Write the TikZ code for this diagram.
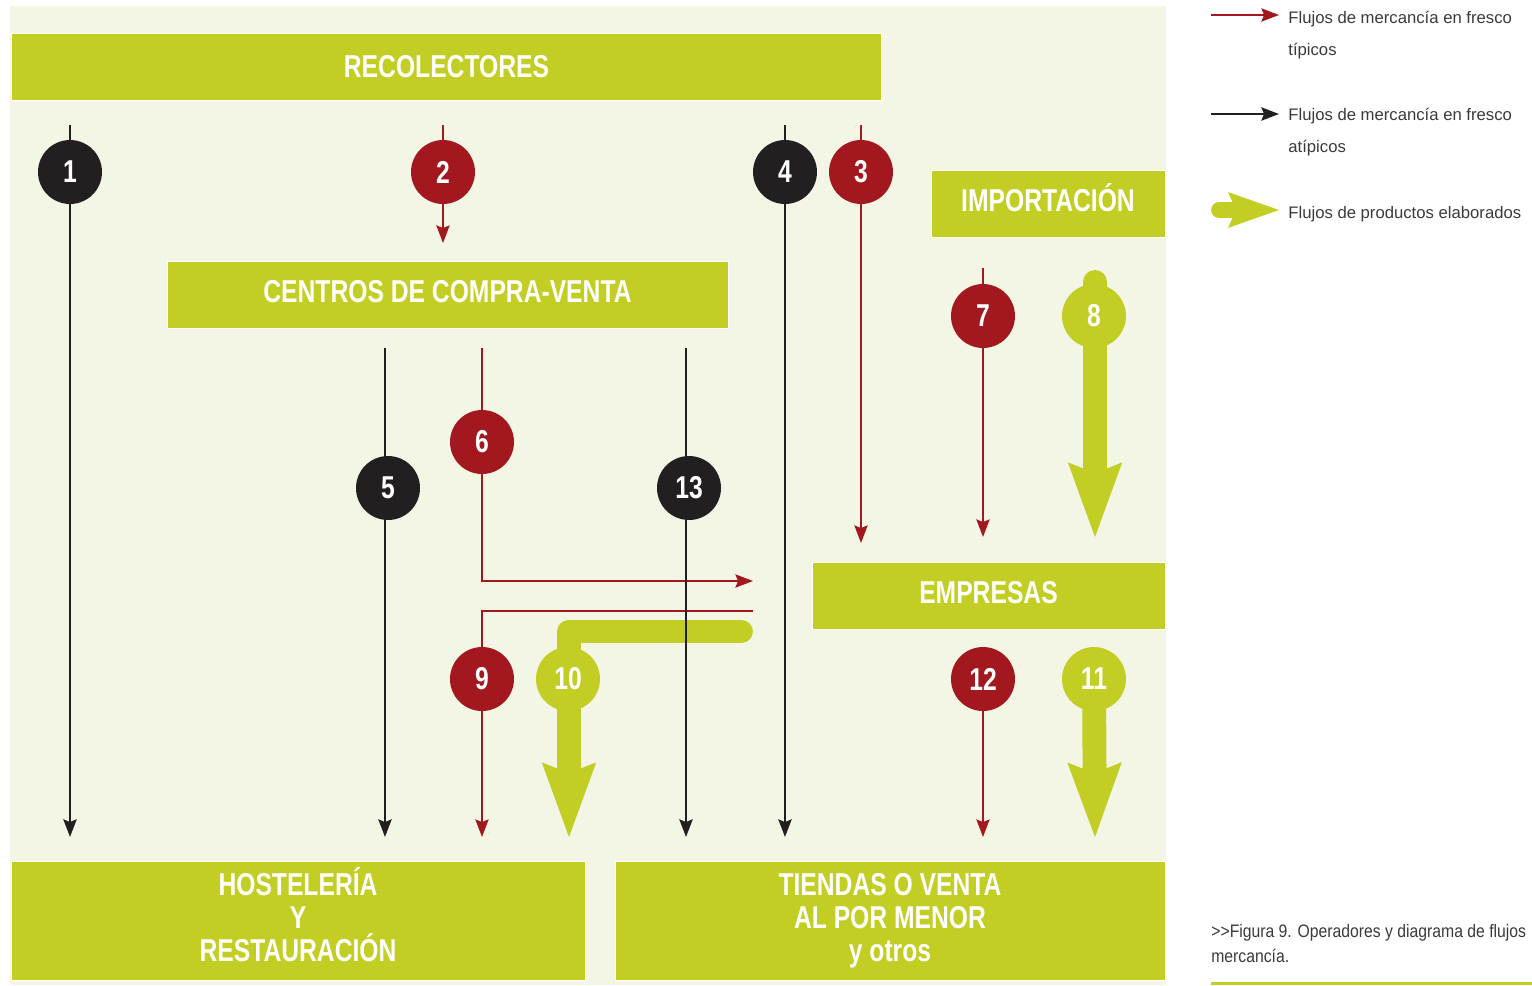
\documentclass[tikz,border=0pt]{standalone}
\usepackage{fontspec}
\setmainfont{Liberation Sans}
\newfontfamily\condfont[FakeStretch=0.78]{Liberation Sans}
\newfontfamily\legfont{Liberation Sans}
\newfontfamily\capfont[FakeStretch=0.87]{Liberation Sans}
\usetikzlibrary{arrows.meta, backgrounds}
\definecolor{cgreen}{HTML}{C2CE23}
\definecolor{cpanel}{HTML}{F3F6E5}
\definecolor{cred}{HTML}{A3171E}
\definecolor{cblack}{HTML}{231F20}
\definecolor{ctext}{HTML}{3A3A3A}
\tikzset{
  every picture/.style={x=0.02cm, y=-0.02cm},
  stage/.style={fill=cgreen, draw=white, line width=0.5pt, text=white, align=center, inner sep=0pt,
    text depth=3.4pt, minimum height=1.34cm, font=\condfont\bfseries\fontsize{18}{18.7}\selectfont},
  badge/.style={circle, fill=#1, minimum size=1.28cm, inner sep=0pt, text=white,
    font=\condfont\bfseries\fontsize{18}{18}\selectfont},
  typical/.style={draw=cred, line width=1.1pt, -{Stealth[length=10pt, width=7.5pt, inset=1.5pt]}},
  atypical/.style={draw=cblack, line width=1.4pt, -{Stealth[length=10pt, width=7.5pt, inset=1.5pt]}},
  elaborate/.style={draw=cgreen, line width=13.6pt, line cap=round, line join=round,
    -{Stealth[length=42.5pt, width=31pt, inset=6.2pt, line width=0pt]}},
  legend/.style={font=\legfont\fontsize{9.5}{18.2}\selectfont, text=ctext, align=left, anchor=base west, inner sep=0pt},
}
\begin{document}
\begin{tikzpicture}
  \useasboundingbox (0,0) rectangle (1532,985);
  % operators
  \node[stage, text depth=0pt, minimum width=17.42cm] (rec) at (446.5,66.5) {RECOLECTORES};
  \node[stage, minimum width=11.22cm] (ccv) at (447.5,294.5) {CENTROS DE COMPRA-VENTA};
  \node[stage, minimum width=4.68cm] (imp) at (1048,203.5) {IMPORTACI\smash{Ó}N};
  \node[stage, minimum width=7.06cm] (emp) at (988.5,595.5) {EMPRESAS};
  \node[stage, minimum width=11.48cm, minimum height=2.38cm] (hos) at (298,920.5) {HOSTELER\smash{Í}A\\Y\\RESTAURACIÓN};
  \node[stage, minimum width=11cm, minimum height=2.38cm] (tie) at (890,920.5) {TIENDAS O VENTA\\AL POR MENOR\\y otros};
  % numbered flows
  \foreach \n/\x/\y/\c in {1/70/172/cblack, 2/443/172/cred, 4/785/172/cblack, 3/861/172/cred,
      7/983/316/cred, 8/1094/316/cgreen, 5/388/488/cblack, 6/482/442/cred, 13/689/488/cblack,
      9/482/679/cred, 10/568/679/cgreen, 12/983/679/cred, 11/1094/679/cgreen}
    \node[badge=\c] (n\n) at (\x,\y) {\n};
  \begin{scope}[on background layer]
    \fill[cpanel] (10,6) rectangle (1166,985);
    % productos elaborados
    \coordinate (top8) at (1095,282); \coordinate (end8) at (1095,537);
    \coordinate (end11) at (1095,837);
    \coordinate (top10) at (741,631.5); \coordinate (bend10) at (569,631.5); \coordinate (end10) at (569,837);
    \draw[elaborate] (top8) -- (end8);
    \draw[elaborate] (top10) -- (bend10) -- (end10);
    \draw[elaborate] (n11.center) -- (end11);
    % fresco tipicos
    \foreach \n/\x/\ya/\yb in {2/443/125/243, 3/861/125/543, 7/983/268/537} {
      \coordinate (top\n) at (\x,\ya); \coordinate (end\n) at (\x,\yb);
      \draw[typical] (top\n) -- (end\n);
    }
    \coordinate (top6) at (482,348); \coordinate (bend6) at (482,581); \coordinate (end6) at (753,581);
    \draw[typical] (top6) -- (bend6) -- (end6);
    \coordinate (top9) at (753,611); \coordinate (bend9) at (482,611); \coordinate (end9) at (482,837);
    \draw[typical] (top9) -- (bend9) -- (end9);
    \coordinate (end12) at (983,837);
    \draw[typical] (n12.center) -- (end12);
    % fresco atipicos
    \foreach \n/\x/\ya/\yb in {1/70/125/837, 4/785/125/837, 5/385/348/837, 13/686/348/837} {
      \coordinate (top\n) at (\x,\ya); \coordinate (end\n) at (\x,\yb);
      \draw[atypical] (top\n) -- (end\n);
    }
  \end{scope}
  % legend
  \coordinate (lr0) at (1211,15); \coordinate (lr1) at (1279,15);
  \draw[typical] (lr0) -- (lr1);
  \node[legend] (lrt) at (1288,55) {Flujos de mercancía en fresco\\típicos};
  \coordinate (lb0) at (1211,114); \coordinate (lb1) at (1279,114);
  \draw[atypical] (lb0) -- (lb1);
  \node[legend] (lbt) at (1288,152) {Flujos de mercancía en fresco\\atípicos};
  \coordinate (lg0) at (1219,210); \coordinate (lg1) at (1279,210);
  \draw[elaborate, line width=9pt, -{Stealth[length=29pt, width=20.4pt, inset=4.5pt, line width=0pt]}] (lg0) -- (lg1);
  \node[legend] (lgt) at (1288,218) {Flujos de productos elaborados};
  % caption
  \node[legend, font=\capfont\fontsize{10.3}{14}\selectfont] (cap) at (1211,962) {>{}>Figura 9. Operadores y diagrama de flujos\\mercancía.};
  \coordinate (cl0) at (1211,983); \coordinate (cl1) at (1532,983);
  \draw[cgreen, line width=1.7pt] (cl0) -- (cl1);
\end{tikzpicture}
\end{document}
